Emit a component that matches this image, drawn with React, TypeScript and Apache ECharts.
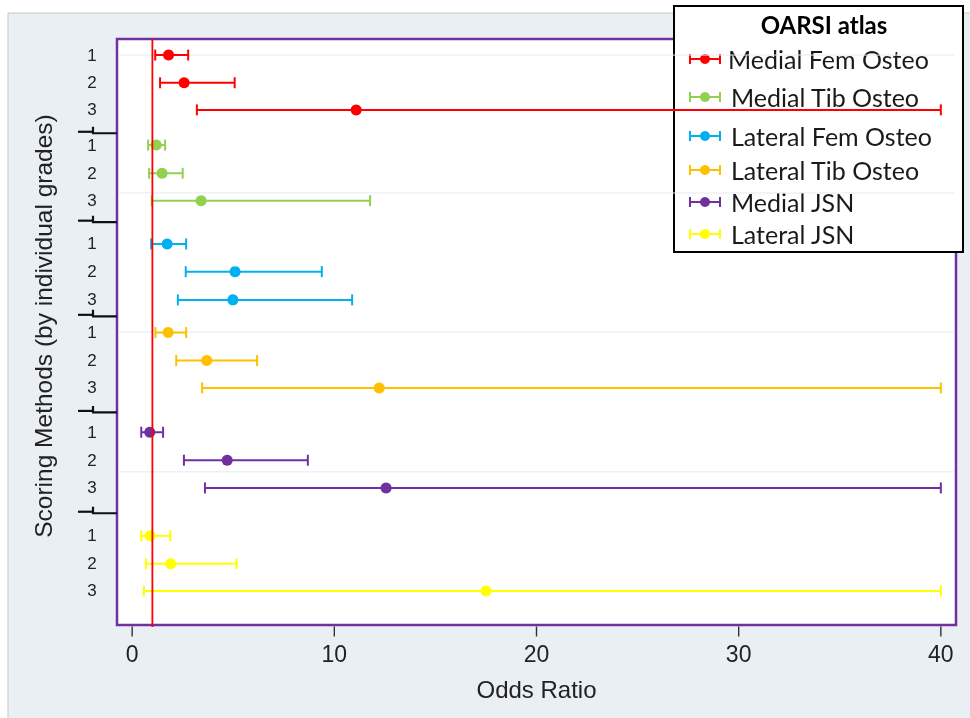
import React, { useEffect, useRef } from "react";
import * as echarts from "echarts";

const groups = ["Medial Fem Osteo", "Medial Tib Osteo", "Lateral Fem Osteo", "Lateral Tib Osteo", "Medial JSN", "Lateral JSN"];
const colors = ["#ff0000", "#92d050", "#00b0f0", "#ffc000", "#7030a0", "#ffff00"];
const gradeLabels = ["1", "2", "3"];
const oddsRatio = [
  [1.8, 2.57, 11.08],
  [1.19, 1.48, 3.41],
  [1.73, 5.09, 4.98],
  [1.78, 3.69, 12.22],
  [0.87, 4.7, 12.56],
  [0.89, 1.91, 17.51],
];
const lowerCI = [
  [1.14, 1.38, 3.2],
  [0.79, 0.84, 0.97],
  [0.94, 2.65, 2.26],
  [1.15, 2.18, 3.46],
  [0.45, 2.56, 3.6],
  [0.45, 0.68, 0.58],
];
const upperCI = [
  [2.77, 5.07, 40],
  [1.63, 2.5, 11.77],
  [2.67, 9.38, 10.88],
  [2.67, 6.18, 40],
  [1.53, 8.69, 40],
  [1.88, 5.16, 40],
];
// row positions on the (hidden) vertical scale
const rowPos = [
  [0.58, 1.58, 2.56],
  [3.83, 4.85, 5.84],
  [7.4, 8.4, 9.42],
  [10.6, 11.61, 12.6],
  [14.2, 15.21, 16.21],
  [17.94, 18.95, 19.93],
];
const bracketPos = [3.35, 6.56, 9.96, 13.43, 17.07];
const gridLinePos = [0.58, 5.56, 10.58, 15.63];
const refOR = 1;
const xTicks = [0, 10, 20, 30, 40];
const xMin = -0.75;
const xMax = 40.75;
const yMin = 0;
const yMax = 21.16;
const legendTitle = "OARSI atlas";
const xTitle = "Odds Ratio";
const yTitle = "Scoring Methods (by individual grades)";

const AXIS_FONT = "'Liberation Sans', Arial, sans-serif";
const LEGEND_FONT = "Lato, 'Open Sans', sans-serif";

export default function App() {
  const ref = useRef<HTMLDivElement>(null);
  useEffect(() => {
    if (!ref.current) return;
    const chart = echarts.init(ref.current, null, { renderer: "svg" });

    const groupSeries = groups.map((name, g) => ({
      type: "custom",
      name,
      clip: false,
      z: 5,
      encode: { x: [0, 1, 2], y: 3 },
      data: gradeLabels.map((_, r) => [lowerCI[g][r], oddsRatio[g][r], upperCI[g][r], rowPos[g][r]]),
      renderItem: (params: any, api: any) => {
        const lo = api.coord([api.value(0), api.value(3)]);
        const mid = api.coord([api.value(1), api.value(3)]);
        const hi = api.coord([api.value(2), api.value(3)]);
        const cap = 5.5;
        const st = { stroke: colors[g], lineWidth: 2 };
        return {
          type: "group",
          children: [
            { type: "line", shape: { x1: lo[0], y1: lo[1], x2: hi[0], y2: hi[1] }, style: st },
            { type: "line", shape: { x1: lo[0], y1: lo[1] - cap, x2: lo[0], y2: lo[1] + cap }, style: st },
            { type: "line", shape: { x1: hi[0], y1: hi[1] - cap, x2: hi[0], y2: hi[1] + cap }, style: st },
            { type: "circle", shape: { cx: mid[0], cy: mid[1], r: 5.5 }, style: { fill: colors[g] } },
          ],
        };
      },
    }));

    const rowLabelData: any[] = [];
    rowPos.forEach((rows) => rows.forEach((p, r) => rowLabelData.push([xMin, p, gradeLabels[r]])));

    const option: any = {
      animation: false,
      grid: {
        left: 117,
        top: 39,
        right: 14,
        bottom: 93,
        show: true,
        backgroundColor: "#ffffff",
        borderColor: "#7030a0",
        borderWidth: 2.5,
      },
      xAxis: {
        type: "value",
        position: "bottom",
        min: xMin,
        max: xMax,
        name: xTitle,
        nameLocation: "middle",
        nameGap: 52,
        nameTextStyle: { fontFamily: AXIS_FONT, fontSize: 24, color: "#222" },
        axisLine: { show: false, onZero: false },
        splitLine: { show: false },
        axisTick: { show: false },
        axisLabel: { customValues: xTicks.slice(), margin: 17, fontFamily: AXIS_FONT, fontSize: 23, color: "#222" },
      },
      yAxis: { type: "value", inverse: true, min: yMin, max: yMax, show: false },
      graphic: [
        {
          type: "rect",
          z: -10,
          shape: { x: 8, y: 13, width: 970, height: 720 },
          style: { fill: "#e9eff2", stroke: "#c5c9cc", lineWidth: 1 },
        },
        {
          type: "text",
          z: 10,
          x: 43,
          y: 326,
          rotation: Math.PI / 2,
          style: {
            text: yTitle,
            fontFamily: AXIS_FONT,
            fontSize: 24.5,
            fill: "#222",
            textAlign: "center",
            textVerticalAlign: "middle",
          },
        },
        {
          type: "group",
          z: 100,
          x: 674,
          y: 6,
          children: [
            {
              type: "rect",
              shape: { x: 0, y: 0, width: 289, height: 246 },
              style: { fill: "#ffffff", stroke: "#000000", lineWidth: 2 },
            },
            {
              type: "text",
              x: 150,
              y: 18,
              style: {
                text: legendTitle,
                fontFamily: LEGEND_FONT,
                fontWeight: "bold",
                fontSize: 24,
                fill: "#000",
                textAlign: "center",
                textVerticalAlign: "middle",
              },
            },
            ...groups.map((name, g) => {
              const cy = [53, 91, 130, 164, 196, 228][g];
              const st = { stroke: colors[g], lineWidth: 2 };
              return {
                type: "group",
                children: [
                  { type: "line", shape: { x1: 16, y1: cy, x2: 46, y2: cy }, style: st },
                  { type: "line", shape: { x1: 16, y1: cy - 5, x2: 16, y2: cy + 5 }, style: st },
                  { type: "line", shape: { x1: 46, y1: cy - 5, x2: 46, y2: cy + 5 }, style: st },
                  { type: "circle", shape: { cx: 31, cy, r: 5 }, style: { fill: colors[g] } },
                  {
                    type: "text",
                    x: g === 0 ? 54 : 57,
                    y: cy,
                    style: {
                      text: name,
                      fontFamily: LEGEND_FONT,
                      fontSize: 25,
                      fill: "#1a1a1a",
                      textAlign: "left",
                      textVerticalAlign: "middle",
                    },
                  },
                ],
              };
            }),
          ],
        },
      ],
      series: [
        {
          type: "custom",
          name: "gridlines",
          clip: false,
          z: 1,
          silent: true,
          encode: { y: 0 },
          data: gridLinePos.map((p) => [p]),
          renderItem: (params: any, api: any) => {
            const a = api.coord([xMin, api.value(0)]);
            const b = api.coord([xMax, api.value(0)]);
            return {
              type: "line",
              shape: { x1: a[0] + 2, y1: a[1], x2: b[0] - 2, y2: b[1] },
              style: { stroke: "#e3ebef", lineWidth: 1 },
            };
          },
        },
        ...groupSeries,
        {
          type: "custom",
          name: "reference",
          clip: false,
          z: 20,
          silent: true,
          encode: { x: 0 },
          data: [[refOR]],
          renderItem: (params: any, api: any) => {
            const a = api.coord([api.value(0), yMin]);
            const b = api.coord([api.value(0), yMax]);
            return {
              type: "line",
              shape: { x1: a[0], y1: a[1], x2: b[0], y2: b[1] + 2 },
              style: { stroke: "#ff0000", lineWidth: 1.8 },
            };
          },
        },
        {
          type: "custom",
          name: "rowLabels",
          clip: false,
          z: 5,
          silent: true,
          encode: { x: 0, y: 1 },
          data: rowLabelData,
          renderItem: (params: any, api: any) => {
            const p = api.coord([api.value(0), api.value(1)]);
            const idx = params.dataIndex;
            return {
              type: "text",
              x: p[0] - 25,
              y: p[1],
              style: {
                text: rowLabelData[idx][2],
                fontFamily: AXIS_FONT,
                fontSize: 17,
                fill: "#222",
                textAlign: "center",
                textVerticalAlign: "middle",
              },
            };
          },
        },
        {
          type: "custom",
          name: "brackets",
          clip: false,
          z: 5,
          silent: true,
          encode: { y: 0 },
          data: bracketPos.map((p) => [p]),
          renderItem: (params: any, api: any) => {
            const p = api.coord([xMin, api.value(0)]);
            const x0 = p[0];
            const y = p[1];
            return {
              type: "group",
              children: [
                {
                  type: "polyline",
                  shape: { points: [[x0 - 39, y], [x0 - 24, y]] },
                  style: { stroke: "#111", lineWidth: 2.2, fill: null },
                },
                {
                  type: "polyline",
                  shape: { points: [[x0 - 24, y - 5], [x0 - 24, y + 1.5], [x0, y + 1.5]] },
                  style: { stroke: "#111", lineWidth: 2.2, fill: null },
                },
              ],
            };
          },
        },
      ],
    };
    chart.setOption(option);

    // x-axis tick marks as thin filled rects, positioned through the axis scale
    const base = chart.convertToPixel({ xAxisIndex: 0, yAxisIndex: 0 }, [xMin, yMax]) as number[];
    const tickEls = xTicks.map((v, i) => {
      const px = chart.convertToPixel({ xAxisIndex: 0 }, v) as number;
      return {
        type: "rect",
        id: "xtick" + i,
        z: 300,
        shape: { x: px - 0.7, y: base[1] + 1.5, width: 1.4, height: 10 },
        style: { fill: "#333333" },
      };
    });
    chart.setOption({ graphic: tickEls });
    return () => chart.dispose();
  }, []);
  return <div ref={ref} style={{ position: "fixed", left: 0, top: 0, width: 970, height: 718 }} />;
}
